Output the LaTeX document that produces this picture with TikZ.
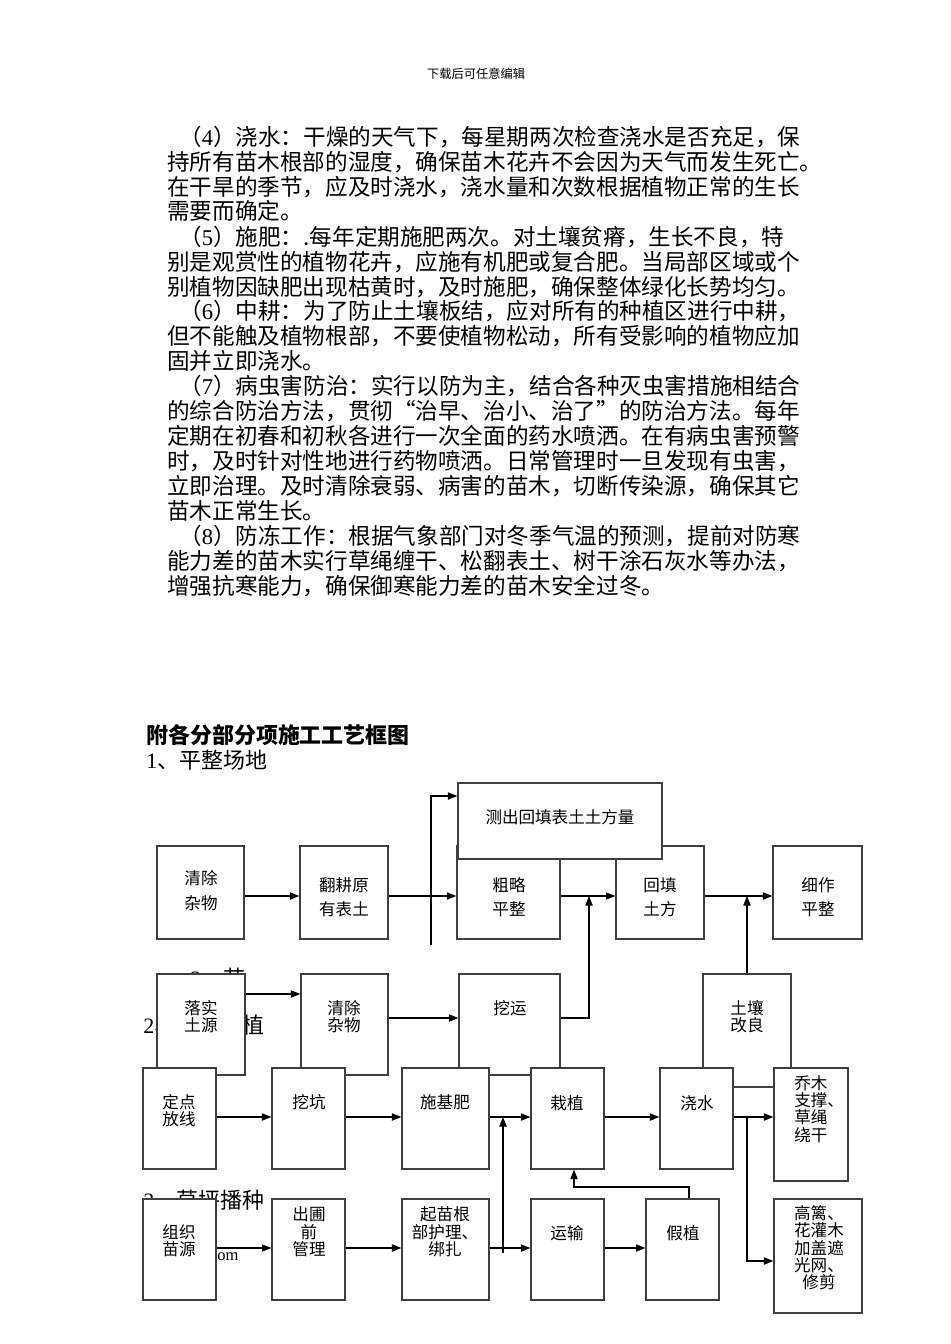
\documentclass[tikz,border=0pt]{standalone}
\usepackage{fontspec}
\setmainfont{Liberation Serif}
\newfontfamily\cjk{Noto Sans CJK SC}
\usetikzlibrary{arrows.meta}
\newcommand\latn[1]{{\rmfamily#1}}

\def\bodytext{%
  {137/179/{（\latn{4}）浇水：干燥的天气下，每星期两次检查浇水是否充足，保}},%
  {162/167/{持所有苗木根部的湿度，确保苗木花卉不会因为天气而发生死亡。}},%
  {187/167/{在干旱的季节，应及时浇水，浇水量和次数根据植物正常的生长}},%
  {211/167/{需要而确定。}},%
  {237/179/{（\latn{5}）施肥：.每年定期施肥两次。对土壤贫瘠，生长不良，特}},%
  {262/167/{别是观赏性的植物花卉，应施有机肥或复合肥。当局部区域或个}},%
  {287/167/{别植物因缺肥出现枯黄时，及时施肥，确保整体绿化长势均匀。}},%
  {311/179/{（\latn{6}）中耕：为了防止土壤板结，应对所有的种植区进行中耕，}},%
  {336/167/{但不能触及植物根部，不要使植物松动，所有受影响的植物应加}},%
  {361/167/{固并立即浇水。}},%
  {386/179/{（\latn{7}）病虫害防治：实行以防为主，结合各种灭虫害措施相结合}},%
  {411/167/{的综合防治方法，贯彻“治早、治小、治了”的防治方法。每年}},%
  {436/167/{定期在初春和初秋各进行一次全面的药水喷洒。在有病虫害预警}},%
  {461/167/{时，及时针对性地进行药物喷洒。日常管理时一旦发现有虫害，}},%
  {486/167/{立即治理。及时清除衰弱、病害的苗木，切断传染源，确保其它}},%
  {511/167/{苗木正常生长。}},%
  {536/179/{（\latn{8}）防冻工作：根据气象部门对冬季气温的预测，提前对防寒}},%
  {561/167/{能力差的苗木实行草绳缠干、松翻表土、树干涂石灰水等办法，}},%
  {586/167/{增强抗寒能力，确保御寒能力差的苗木安全过冬。}}}
\def\chartA{200.5/892.5/87/93/qc1, 344/892.5/88/93/fg, 508.5/892.5/103/93/cl, 660/892.5/88/93/ht, 817.5/892.5/89/93/xz, 201/1024.5/88/101/ls, 344.5/1024.5/87/101/qcb, 509.5/1024.5/101/101/wy, 747/1030.5/88/113/tr}
\def\chartB{179.5/1118.5/73/101/dd, 308.5/1118.5/73/101/wk, 445.5/1118.5/87/101/sj, 567.5/1118.5/73/101/zz, 696.5/1118.5/73/101/js, 811/1124.5/74/113/qm, 179.5/1249.5/73/101/zy, 308.5/1249.5/73/101/cp, 445.5/1249.5/87/101/qg, 567.5/1249.5/73/101/ys, 682.5/1249.5/73/101/jz, 818/1256/88/114/gl}
\def\labelsA{{(201,890.5)/qc1/{清除\\杂物}}, {(344,897)/fg/{翻耕原\\有表土}}, {(509,897)/cl/{粗略\\平整}}, {(660,897)/ht/{回填\\土方}}, {(818,897)/xz/{细作\\平整}}}
\def\labelsB{{(560,817)/cc/{测出回填表土土方量}}, {(201,1016.5)/ls/{落实\\土源}}, {(344,1016.5)/qcb/{清除\\杂物}}, {(510,1008)/wy/{挖运}}, {(747,1016.5)/tr/{土壤\\改良}}, {(179,1110.5)/dd/{定点\\放线}}, {(309,1102)/wk/{挖坑}}, {(445,1102)/sj/{施基肥}}, {(567,1103)/zz/{栽植}}, {(697,1103)/js/{浇水}}, {(179,1240.5)/zy/{组织\\苗源}}, {(309,1232)/cp/{出圃\\前\\管理}}, {(445,1232)/qg/{起苗根\\部护理、\\绑扎}}, {(567,1233)/ys/{运输}}, {(683,1233)/jz/{假植}}, {(819,1248)/gl/{高篱、\\花灌木\\加盖遮\\光网、\\修剪}}}
\colorlet{box edge}{black!75}
\tikzset{
  arr/.style={draw, line width=0.7pt, -{Triangle[length=6pt,width=4.6pt]}},
  body/.style={anchor=west, inner sep=0pt, font={\cjk\fontsize{14.2pt}{15pt}\selectfont}}
  }
\tikzstyle{box}=[rectangle, draw=box edge, line width=0.8pt, fill=white, inner sep=0pt]
\tikzstyle{lbl}=[inner sep=0pt, align=center, font={\cjk\fontsize{10.4pt}{10.9pt}\selectfont}]
\tikzstyle{lbl wide}=[inner sep=0pt, align=center, font={\cjk\fontsize{10.4pt}{15.4pt}\selectfont}]
\tikzstyle{sect}=[anchor=west, inner sep=0pt, font={\cjk\fontsize{13.8pt}{14pt}\selectfont}]

\begin{document}
\begin{tikzpicture}[x=0.0221cm, y=-0.0221cm]
  \fill[white] (0,0) rectangle (950,1344);
  \useasboundingbox (0,0) rectangle (950,1344);

  % The page text
  \node[inner sep=0pt, font={\cjk\fontsize{7.7pt}{8pt}\selectfont}] (hdr) at (476,74) {下载后可任意编辑};
  \foreach \y/\x/\txt [count=\i] in \bodytext
    \node[body] (l\i) at (\x,\y) {\txt};
  \node[sect, font={\cjk\bfseries\fontsize{13.8pt}{14pt}\selectfont}] (title) at (146,735) {附各分部分项施工工艺框图};
  \node[sect] (s1) at (146,760) {\latn{1}、平整场地};
  \node[sect] (s2) at (143,1025) {\latn{2}、苗木种植};
  \node[sect] (s2b) at (190,978) {\latn{2}、苗};
  \node[sect] (s3) at (143,1200) {\latn{3}、草坪播种};
  \node[anchor=west, inner sep=0pt, font=\fontsize{10.4pt}{11pt}\selectfont] (om) at (217,1257) {om};

  % The boxes
  \foreach \cx/\cy/\w/\h/\name in \chartA
    \node[box, minimum width=\w*0.0221cm, minimum height=\h*0.0221cm] (\name) at (\cx,\cy) {};
  \node[box, minimum width=204*0.0221cm, minimum height=76*0.0221cm] (cc) at (560,821) {};
  \foreach \cx/\cy/\w/\h/\name in \chartB
    \node[box, minimum width=\w*0.0221cm, minimum height=\h*0.0221cm] (\name) at (\cx,\cy) {};

  % Their texts
  \foreach \pos/\name/\txt in \labelsA
    \node[lbl wide] (\name-t) at \pos {\txt};
  \foreach \pos/\name/\txt in \labelsB
    \node[lbl] (\name-t) at \pos {\txt};
  \node[lbl, anchor=west, align=left] (qm-t) at (794,1109) {乔木\\支撑、\\草绳\\绕干};

  % Rows and bends of the arrows
  \coordinate (ya) at (0,896);
  \coordinate (yb) at (0,994);
  \coordinate (yc) at (0,1018);
  \coordinate (yd) at (0,1117);
  \coordinate (ye) at (0,1248);
  \coordinate (va) at (431,945);
  \coordinate (vb) at (0,796);
  \coordinate (ja) at (589,896);
  \coordinate (jb) at (503,1253);
  \coordinate (jd) at (689,1187);
  \coordinate (je) at (574,1187);
  \coordinate (jf) at (747,1261);

  % The arrows
  \foreach \a/\b in {qc1/fg, fg/cl, cl/ht, ht/xz}
    \draw[arr] (\a.east |- ya) -- (\b.west |- ya);
  \draw[arr] (va) |- (cc.west |- vb);
  \draw[arr] (ls.east |- yb) -- (qcb.west |- yb);
  \draw[arr] (qcb.east |- yc) -- (wy.west |- yc);
  \draw[arr] (wy.east |- yc) -| (ja);
  \draw[arr] (tr.north) -- (tr.north |- ya);
  \foreach \a/\b in {dd/wk, wk/sj, sj/zz, zz/js, js/qm}
    \draw[arr] (\a.east |- yd) -- (\b.west |- yd);
  \foreach \a/\b in {zy/cp, cp/qg, qg/ys, ys/jz}
    \draw[arr] (\a.east |- ye) -- (\b.west |- ye);
  \draw[arr] (jb) -- (jb |- yd);
  \draw[arr] (jz.north -| jd) -- (jd) -- (je) -- (je |- zz.south);
  \draw[arr] (jf |- yd) -- (jf) -- (gl.west |- jf);
\end{tikzpicture}
\end{document}
